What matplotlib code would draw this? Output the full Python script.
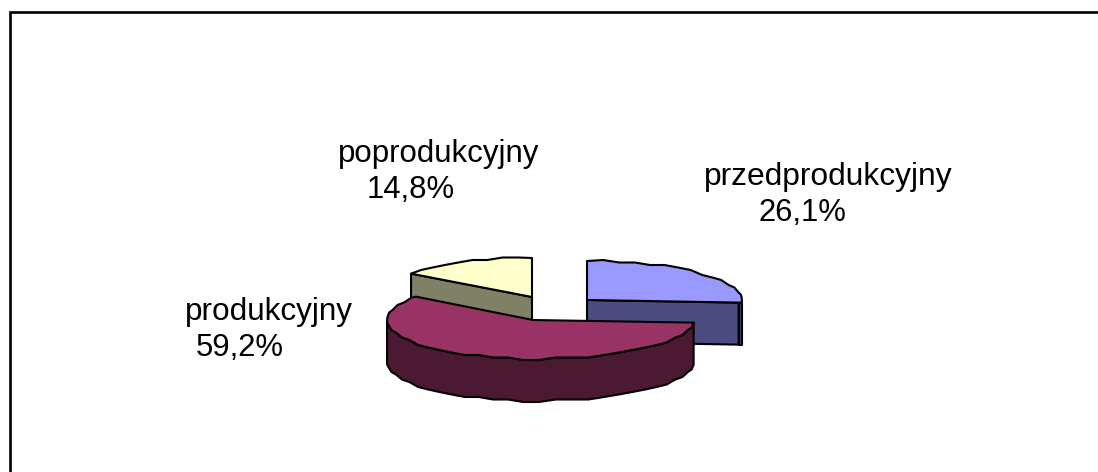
import numpy as np
import matplotlib
matplotlib.use("Agg")
import matplotlib.pyplot as plt

plt.rcParams['font.family'] = ['Liberation Sans', 'DejaVu Sans']

# values
labels = ["przedprodukcyjny", "produkcyjny", "poprodukcyjny"]
values = [26.1, 59.2, 14.8]
value_texts = ["26,1%", "59,2%", "14,8%"]

top_colors = ["#9999FF", "#993366", "#FFFFCC"]
side_colors = ["#4C4C80", "#4C1933", "#808066"]

# slice geometry in pixels: apex x, apex y, radius left, radius right
apex = [(587, 300), (533, 320), (532, 297)]
radii = [(155, 155), (146, 161), (151, 151)]
ry = 39
depth = 42

# label baselines
label_pos = [(828, 185), (268.5, 320), (438.5, 162)]
label_sizes = [22.9, 22.7, 22.5]
value_pos = [(802, 221), (240, 356), (411, 198)]


def rim(i, a0, a1):
    # clockwise angles from 12 o'clock, same step everywhere so wall and top line up
    deg = np.r_[np.arange(a0, a1, 6), a1]
    a = np.radians(deg)
    rx = np.where(np.sin(a) < 0, radii[i][0], radii[i][1])
    x = apex[i][0] + rx * np.sin(a)
    y = apex[i][1] - ry * np.cos(a)
    # snapping gives the slightly wavy low-res edge
    y[1:-1] = np.round(y[1:-1] / 2.5) * 2.5
    return x, y


fig = plt.figure(figsize=(10.98, 4.72), dpi=100)
ax = fig.add_axes([0, 0, 1, 1])
ax.set_xlim(0, 1098)
ax.set_ylim(472, 0)
ax.axis("off")

# frame: only left and top sides are visible in the crop
ax.plot([10.4, 10.4, 1098], [472, 12.3, 12.3], color="black", lw=1.9, solid_joinstyle="miter")

angles = np.cumsum([0] + values) / sum(values) * 360
line = dict(edgecolor="black", linewidth=1.5, joinstyle="round")

# yellow slice: cut face, then top
i = 2
x, y = rim(i, angles[2], angles[3])
ax.fill([apex[i][0], x[0], x[0], apex[i][0]], [apex[i][1], y[0], y[0] + depth, apex[i][1] + depth], facecolor=side_colors[i], **line)
ax.fill(np.r_[apex[i][0], x], np.r_[apex[i][1], y], facecolor=top_colors[i], **line)

# blue slice: cut face, thin outer wall, top
i = 0
x, y = rim(i, angles[0], angles[1])
ax.fill([apex[i][0], x[-1] - 3, x[-1] - 3, apex[i][0]], [apex[i][1], y[-1], y[-1] + depth, apex[i][1] + depth], facecolor=side_colors[i], **line)
ax.fill([x[-1] - 3, x[-1], x[-1], x[-1] - 3], [y[-1], y[-1], y[-1] + depth, y[-1] + depth], facecolor=side_colors[i], **line)
ax.fill(np.r_[apex[i][0], x], np.r_[apex[i][1], y], facecolor=top_colors[i], **line)

# maroon slice: front wall, then top
i = 1
x, y = rim(i, angles[1], 270)
ax.fill(np.r_[x, x[::-1]], np.r_[y, y[::-1] + depth], facecolor=side_colors[i], **line)
x, y = rim(i, angles[1], angles[2])
ax.fill(np.r_[apex[i][0], x], np.r_[apex[i][1], y], facecolor=top_colors[i], **line)

for j in range(3):
    ax.text(label_pos[j][0], label_pos[j][1], labels[j], fontsize=label_sizes[j], ha="center", va="baseline", color="black")
    ax.text(value_pos[j][0], value_pos[j][1], value_texts[j], fontsize=22.3, ha="center", va="baseline", color="black")

fig.savefig("out.png", dpi=100)
